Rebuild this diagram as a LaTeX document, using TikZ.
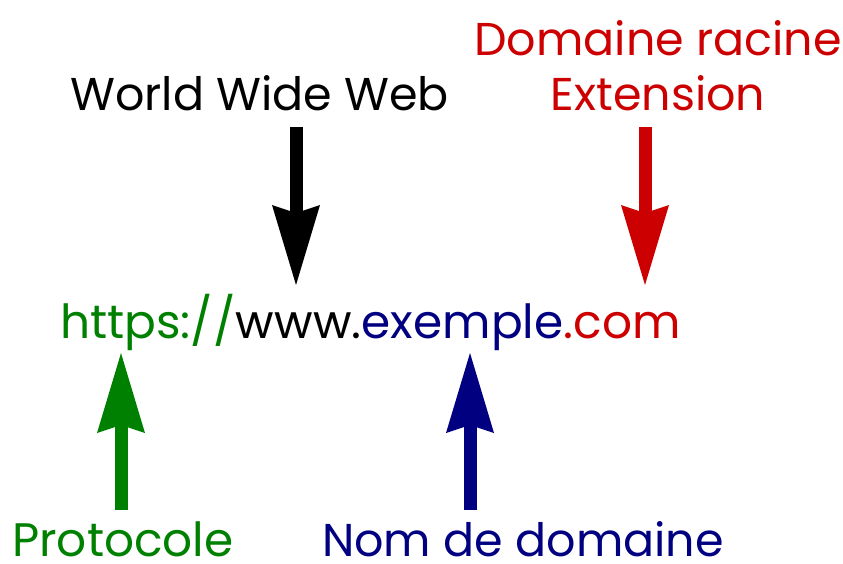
\documentclass[tikz,border=0pt]{standalone}
\usepackage{fontspec}
\setmainfont{Poppins}
\usepackage{tikz}
\usetikzlibrary{positioning,arrows.meta}
\definecolor{protogreen}{RGB}{0,128,0}
\definecolor{domblue}{RGB}{0,0,128}
\definecolor{extred}{RGB}{204,0,0}

\begin{document}
\begin{tikzpicture}[x=1pt,y=-1pt,
    lbl/.style={inner sep=0pt,anchor=base west,font=\fontsize{46}{55}\selectfont},
    part/.style={lbl,anchor=base west,font=\fontsize{47}{55}\selectfont},
    bigarrow/.style={line width=13pt,
      -{Stealth[length=80pt,width=48pt,inset=8pt,line width=0pt]}}]
      \useasboundingbox (0,0) rectangle (843,563);
      % labels
      \node[lbl] (wwwlbl) at (70,110) {World Wide Web};
      \node[lbl,anchor=base,text=extred] (domlbl) at (658,55) {Domaine racine};
      \node[lbl,anchor=base,text=extred] (extlbl) at (658,110) {Extension};
      \node[lbl,text=protogreen,text depth=0pt,font=\fontsize{47}{55}\selectfont] (protolbl) at (12,556) {Protocole};
      \node[lbl,text=domblue,text depth=0pt] (namelbl) at (322,556) {Nom de domaine};
      % the url
      \node[part,text=protogreen] (proto) at (60,338) {https://};
      \node[part] (www) at (proto.base east) {www.};
      \node[part,text=domblue] (name) at (www.base east) {exemple};
      \node[part,text=extred] (ext) at (name.base east) {.com};
      % arrows
      \coordinate (wwwfrom) at (296,127);
      \coordinate (wwwto) at (296,285);
      \coordinate (extfrom) at (645,127);
      \coordinate (extto) at (645,285);
      \coordinate (protofrom) at (121,510);
      \coordinate (prototo) at (121,353);
      \coordinate (namefrom) at (470,510);
      \coordinate (nameto) at (470,353);
      \draw[bigarrow] (wwwfrom) -- (wwwto);
      \draw[bigarrow,extred] (extfrom) -- (extto);
      \draw[bigarrow,protogreen] (protofrom) -- (prototo);
      \draw[bigarrow,domblue] (namefrom) -- (nameto);
\end{tikzpicture}
\end{document}
